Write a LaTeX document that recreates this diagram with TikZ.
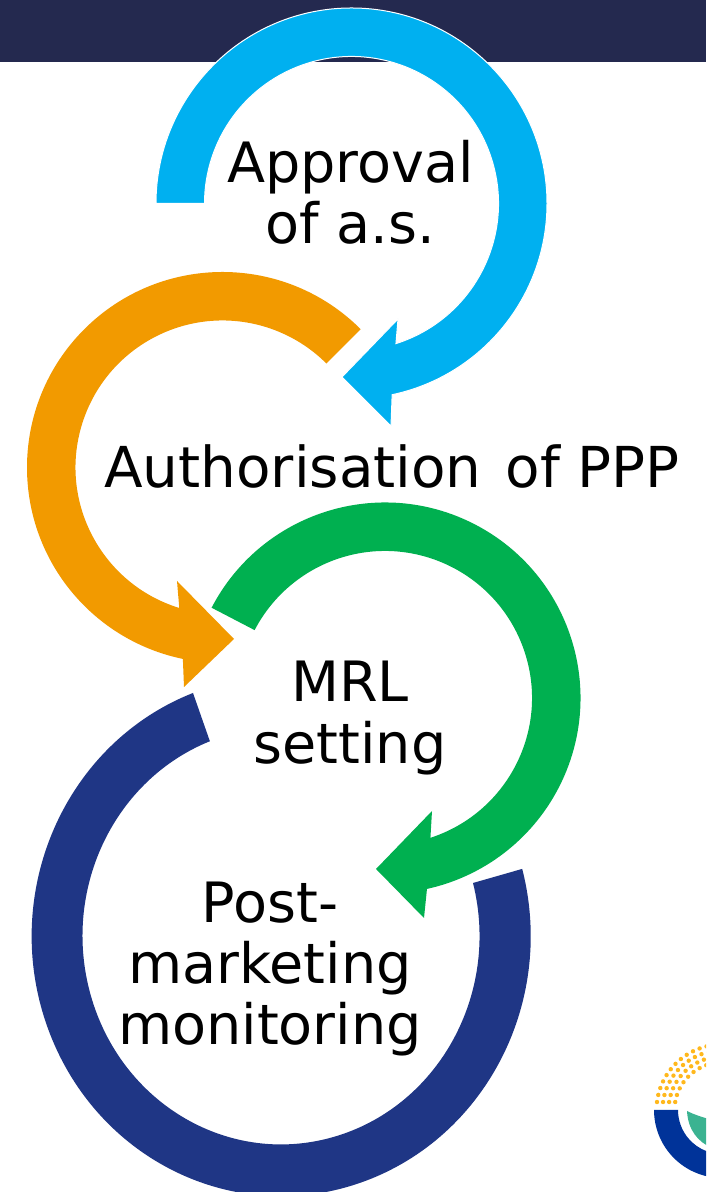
\documentclass[tikz,border=0pt]{standalone}
\usepackage{fontspec}
\setmainfont{DejaVu Sans}
\usetikzlibrary{calc}
\definecolor{banner}{HTML}{24294F}
\definecolor{skyarc}{HTML}{00B0F0}
\definecolor{orangearc}{HTML}{F29A00}
\definecolor{greenarc}{HTML}{00B050}
\definecolor{navyarc}{HTML}{1F3685}
\definecolor{logonavy}{HTML}{003399}
\definecolor{logoleaf}{HTML}{3BB391}
\definecolor{logodot}{HTML}{FFB81C}
\tikzset{
    steplabel/.style={inner sep=0pt, align=center, text=black, font=\fontsize{27.8}{30.6}\selectfont},
}

\begin{document}
\begin{tikzpicture}[x=0.5pt, y=0.5pt]
    \clip (0,0) rectangle (706,1192);
    \fill[white] (0,0) rectangle (706,1192);
    \fill[banner] (0,1130) rectangle (706,1192);

    \coordinate (skycentre) at (351.5,988.5);
    \coordinate (orangecentre) at (222.5,724.5);
    \coordinate (greencentre) at (385,494);
    \coordinate (navycentre) at (281,256);

    % Approval arrow
    \fill[skyarc, draw=white, line width=0.5pt] ($(skycentre)+(180:195.5)$) arc[start angle=180, end angle=-78, radius=195.5]
        -- (391,766) -- (342,815) -- (398,873)
        -- ($(skycentre)+(-72.4:147)$) arc[start angle=-72.4, end angle=180, radius=147] -- cycle;
    % Authorisation arrow
    \fill[orangearc] ($(orangecentre)+(45:195.5)$) arc[start angle=45, end angle=258.3, radius=195.5]
        -- (184,505) -- (234,553) -- (177,611)
        -- ($(orangecentre)+(252.9:147)$) arc[start angle=252.9, end angle=45, radius=147] -- cycle;
    % MRL arrow
    \fill[greenarc] ($(greencentre)+(152.5:195.5)$) arc[start angle=152.5, end angle=-77.6, radius=195.5]
        -- (424,274) -- (376,323) -- (432,381)
        -- ($(greencentre)+(-72:147)$) arc[start angle=-72, end angle=152.5, radius=147] -- cycle;
    % monitoring ring, slightly taller than wide
    \fill[navyarc] (193,499) arc[start angle=110.7, end angle=375, x radius=249.5, y radius=260]
        -- (473,309) arc[start angle=374.7, end angle=111, x radius=198.5, y radius=208.5] -- cycle;

    \node[steplabel] (approval) at (350.5,1000) {Approval\\of a.s.};
    \node[steplabel, anchor=base, font=\fontsize{28.2}{30}\selectfont] (authorisation) at (392,704) {Authorisation\hspace{3pt} of PPP};
    \node[steplabel] (mrl) at (350,474) {MRL\\setting};
    \node[steplabel] (monitoring) at (270,223) {Post-\\marketing\\monitoring};

    % logo in the corner
    \coordinate (logocentre) at (722,82);
    \foreach \r/\s/\b in {65.5/6.3/7,59.5/6.9/7.7,53.5/7.7/8.6,47.5/8.7/9.7} {
        \foreach \n in {0,...,13} {
            \fill[logodot] ($(logocentre)+({180-\b-\n*\s}:\r)$) circle[radius=2.2];
        }
    }
    \fill[logonavy] (654,82) arc[start angle=180, end angle=280, radius=68]
        -- ($(logocentre)+(280:44)$) arc[start angle=280, end angle=180, radius=44] -- cycle;
    \fill[logoleaf] (687,81) .. controls (695,77) and (702,75) .. (712,72) -- (712,44) .. controls (698,50) and (688,62) .. cycle;
\end{tikzpicture}
\end{document}
